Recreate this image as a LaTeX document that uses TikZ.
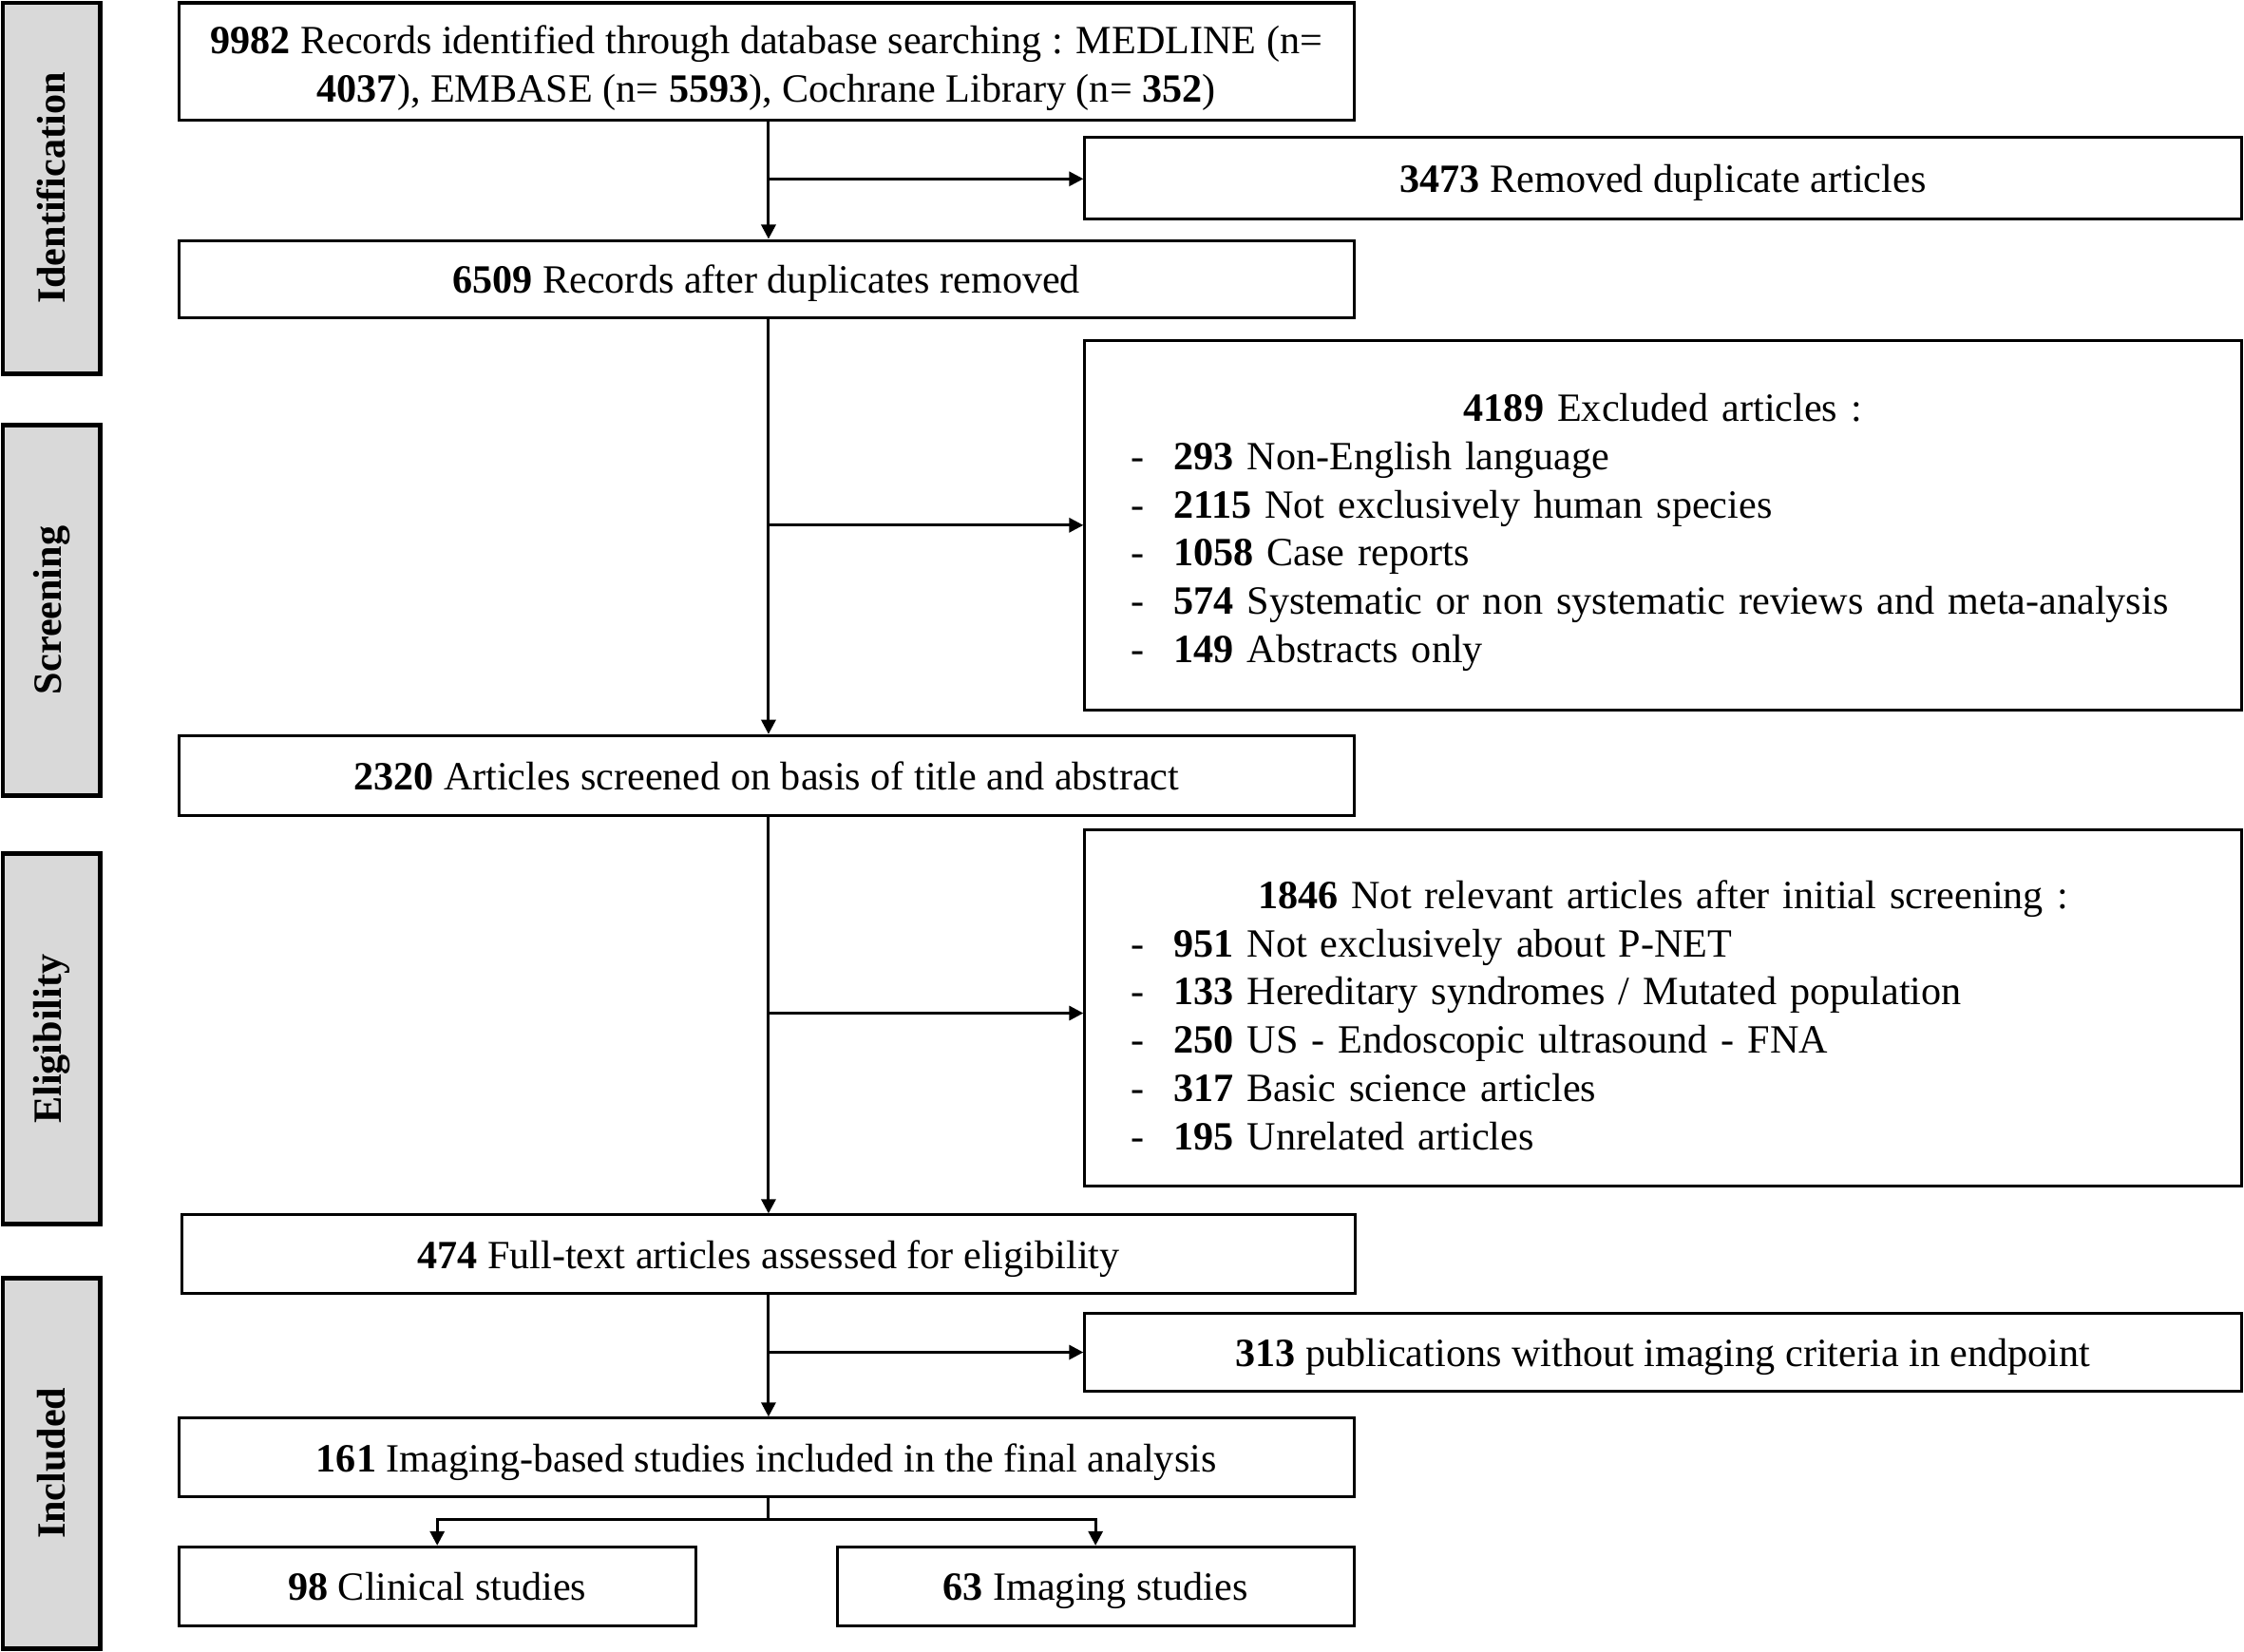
\documentclass[tikz,border=0pt]{standalone}
\usepackage{fontspec}
\setmainfont{Liberation Serif}
\usetikzlibrary{arrows.meta}
\definecolor{sidegray}{HTML}{D9D9D9}
\begin{document}
\begin{tikzpicture}[x=0.5pt,y=-0.5pt,
  box/.style={draw, line width=1pt, inner sep=0pt, align=center,
    text height=11pt, text depth=1pt,
    font=\fontsize{14}{16.85}\selectfont},
  twobox/.style={draw, line width=1pt, inner sep=0pt, align=center,
    font=\fontsize{14}{16.85}\selectfont},
  listbox/.style={draw, line width=1pt, inner xsep=16pt, inner ysep=0pt,
    minimum width=404pt, text width=372pt,
    font=\fontsize{14}{16.85}\selectfont},
  side/.style={draw, line width=1.6pt, fill=sidegray, rotate=90, inner sep=0pt,
    minimum height=34pt, minimum width=129.5pt,
    font=\bfseries\fontsize{14}{17}\selectfont},
  arr/.style={line width=1pt, -{Triangle[length=5pt,width=5pt]}},
  ln/.style={line width=1pt}]
\useasboundingbox (0,0) rectangle (1568,1154);
\newcommand{\dashitem}{\makebox[15pt][l]{-}}
\newcommand{\topstrut}{\rule{0pt}{14.7pt}}
% side labels
\node[side] (sid) at (36,131.5) {Identification};
\node[side] (ssc) at (36,426.5) {Screening};
\node[side] (sel) at (36,726) {Eligibility};
\node[side] (sin) at (36,1022.5) {Included};
% main boxes
\node[twobox, minimum width=410.5pt, minimum height=41pt] (rec) at (535.5,43)
  {\topstrut\textbf{9982} Records identified through database searching : MEDLINE (n=\\
   \textbf{4037}), EMBASE (n= \textbf{5593}), Cochrane Library (n= \textbf{352})};
\node[box, minimum width=404pt, minimum height=28.5pt] (dup) at (1162,124.5)
  {\textbf{3473} Removed duplicate articles};
\node[box, minimum width=410.5pt, minimum height=27pt] (aft) at (535.5,195)
  {\textbf{6509} Records after duplicates removed};
\node[listbox, minimum height=129pt] (exc) at (1162,367)
  {{\centering\topstrut\textbf{4189} Excluded articles :\par}\raggedright
   \dashitem\textbf{293} Non-English language\\
   \dashitem\textbf{2115} Not exclusively human species\\
   \dashitem\textbf{1058} Case reports\\
   \dashitem\textbf{574} Systematic or non systematic reviews and meta-analysis\\
   \dashitem\textbf{149} Abstracts only};
\node[box, minimum width=410.5pt, minimum height=28pt] (scr) at (535.5,542)
  {\textbf{2320} Articles screened on basis of title and abstract};
\node[listbox, minimum height=124.5pt] (nre) at (1162,704.5)
  {{\centering\topstrut\textbf{1846} Not relevant articles after initial screening :\par}\raggedright
   \dashitem\textbf{951} Not exclusively about P-NET\\
   \dashitem\textbf{133} Hereditary syndromes / Mutated population\\
   \dashitem\textbf{250} US - Endoscopic ultrasound - FNA\\
   \dashitem\textbf{317} Basic science articles\\
   \dashitem\textbf{195} Unrelated articles};
\node[box, minimum width=410pt, minimum height=27.5pt] (ful) at (537,876.5)
  {\textbf{474} Full-text articles assessed for eligibility};
\node[box, minimum width=404pt, minimum height=27pt] (pub) at (1162,945)
  {\textbf{313} publications without imaging criteria in endpoint};
\node[box, minimum width=410.5pt, minimum height=27.5pt] (inc) at (535.5,1018.5)
  {\textbf{161} Imaging-based studies included in the final analysis};
\node[box, minimum width=180.5pt, minimum height=27.5pt] (cli) at (305.5,1108.5)
  {\textbf{98} Clinical studies};
\node[box, minimum width=180.5pt, minimum height=27.5pt] (img) at (765.5,1108.5)
  {\textbf{63} Imaging studies};
% connectors
\coordinate (b1) at (537,125);
\coordinate (b2) at (537,367);
\coordinate (b3) at (537,708);
\coordinate (b4) at (537,945);
\draw[arr] (rec.south -| b1) -- (aft.north -| b1);
\draw[arr] (b1) -- (dup.west |- b1);
\draw[arr] (aft.south -| b2) -- (scr.north -| b2);
\draw[arr] (b2) -- (exc.west |- b2);
\draw[arr] (scr.south -| b3) -- (ful.north -| b3);
\draw[arr] (b3) -- (nre.west |- b3);
\draw[arr] (ful.south -| b4) -- (inc.north -| b4);
\draw[arr] (b4) -- (pub.west |- b4);
\coordinate (sp) at (537,1062);
\draw[ln] (inc.south -| sp) -- (sp);
\draw[arr] (sp) -| (cli.north);
\draw[arr] (sp) -| (img.north);
\end{tikzpicture}
\end{document}
